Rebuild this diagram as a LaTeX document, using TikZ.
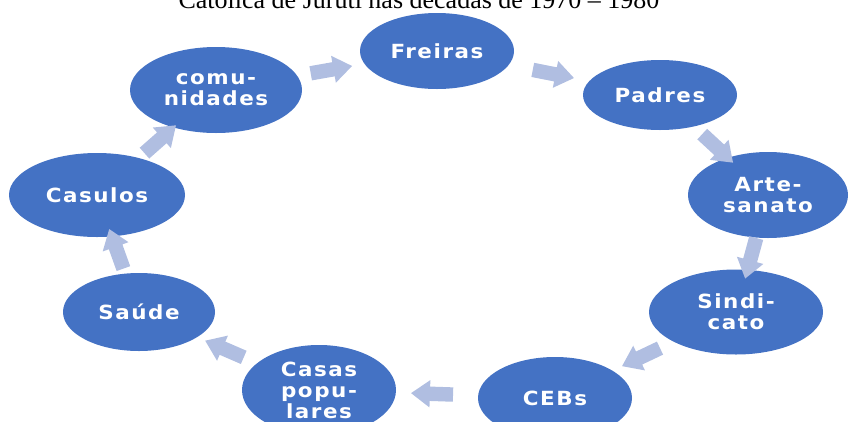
\documentclass[tikz,border=0pt]{standalone}
\usepackage{fontspec}
\setmainfont{Liberation Serif}
\newfontfamily\lblfont[LetterSpace=8,FakeStretch=1.1]{DejaVu Sans}
\usetikzlibrary{shapes.geometric,shapes.arrows}
\definecolor{nodeblue}{HTML}{4472C4}
\definecolor{arrowc}{RGB}{176,190,225}
\tikzset{
  bub/.style={ellipse, fill=nodeblue, draw=none, inner sep=0pt, text=white,
    align=center, font=\lblfont\bfseries\fontsize{19.5}{21}\selectfont},
  arr/.style={single arrow, fill=arrowc, draw=none, inner xsep=0pt, inner ysep=7pt,
    minimum height=42pt, single arrow head extend=6.5pt,
    single arrow tip angle=72, sloped, allow upside down}
}
\begin{document}
\begin{tikzpicture}[x=1pt,y=-1pt]
\useasboundingbox (0,0) rectangle (851,421);
\clip (0,0) rectangle (851,421);
\node[anchor=base, font=\fontsize{26}{30}\selectfont] (title) at (419,8) {Católica de Juruti nas décadas de 1970 – 1980};
\node[bub, minimum width=154pt, minimum height=76pt] (frei) at (437,51) {Freiras};
\node[bub, minimum width=154pt, minimum height=70pt] (padr) at (660,95) {Padres};
\node[bub, minimum width=160pt, minimum height=86pt] (arte) at (768,195) {Arte-\\sanato};
\node[bub, minimum width=174pt, minimum height=85pt] (sind) at (736,312) {Sindi-\\cato};
\node[bub, minimum width=154pt, minimum height=82pt] (cebs) at (555,398) {CEBs};
\node[bub, minimum width=154pt, minimum height=90pt] (casa) at (319,390) {Casas\\popu-\\lares};
\node[bub, minimum width=152pt, minimum height=78pt] (saud) at (139,312) {Saúde};
\node[bub, minimum width=176pt, minimum height=84pt] (casu) at (97,195) {Casulos};
\node[bub, minimum width=172pt, minimum height=86pt] (comu) at (216,90) {comu-\\nidades};
\path (comu.center) -- node[arr] (a1) {} (frei.center);
\path (frei.center) -- node[arr] (a2) {} (padr.center);
\path (padr.center) -- node[arr] (a3) {} (arte.center);
\path (arte.center) -- node[arr] (a4) {} (sind.center);
\path (sind.center) -- node[arr] (a5) {} (cebs.center);
\path (cebs.center) -- node[arr] (a6) {} (casa.center);
\path (casa.center) -- node[arr] (a7) {} (saud.center);
\path (saud.center) -- node[arr] (a8) {} (casu.center);
\path (casu.center) -- node[arr] (a9) {} (comu.center);
\end{tikzpicture}
\end{document}
